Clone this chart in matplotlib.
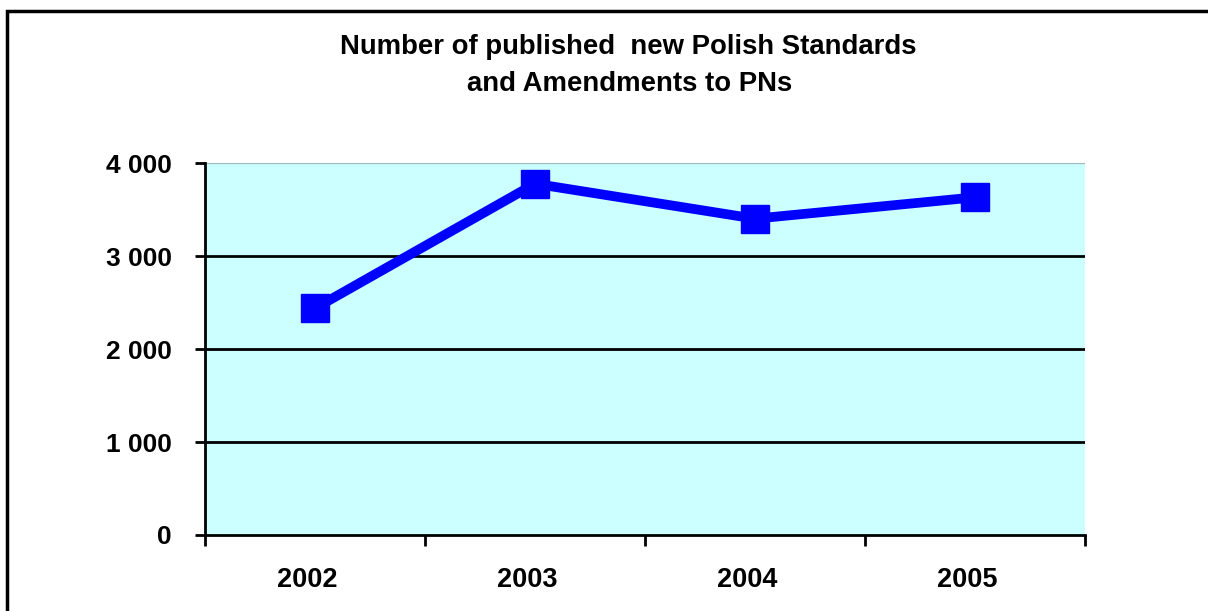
import matplotlib
matplotlib.use("Agg")
import matplotlib.pyplot as plt
from matplotlib.patches import Rectangle
from matplotlib.ticker import FuncFormatter
from matplotlib.transforms import ScaledTranslation

years = ["2002", "2003", "2004", "2005"]
values = [2440, 3780, 3404, 3634]
y_ticks = [0, 1000, 2000, 3000, 4000]
title_lines = ["Number of published  new Polish Standards", "and Amendments to PNs"]

plt.rcParams['font.family'] = ['Liberation Sans', 'DejaVu Sans']
W, H = 1208, 611
fig = plt.figure(figsize=(W / 100, H / 100), dpi=100)
fig.patch.set_facecolor('white')

# outer frame (cropped on right/bottom)
fig.patches.append(Rectangle((7 / W, -0.1), 1.2, 1 - 11 / H + 0.1,
                             transform=fig.transFigure, fill=False,
                             edgecolor='black', linewidth=2.5))

ax = fig.add_axes([205 / W, 1 - 535 / H, (1085 - 205) / W, (535 - 163.3) / H])
ax.set_facecolor('#ccffff')
x = list(range(len(years)))
ax.set_xlim(-0.5, len(years) - 0.5)
ax.set_ylim(0, 4000)

for yv in y_ticks[1:-1]:
    ax.axhline(yv, color='black', linewidth=2.0, zorder=1)
ax.axhline(4000, color='#99bbbb', linewidth=1.6, zorder=1)

ax.plot(x, values, color='#0000ff', linewidth=7, marker='s', markersize=19.5,
        markerfacecolor='#0000ff', markeredgecolor='#0000ff', zorder=3)

for s in ['top', 'right']:
    ax.spines[s].set_visible(False)
for s in ['left', 'bottom']:
    ax.spines[s].set_linewidth(2.0)
    ax.spines[s].set_color('black')

ax.set_yticks(y_ticks)
ax.yaxis.set_major_formatter(FuncFormatter(lambda v, p: f"{int(v):,}".replace(",", " ")))
ax.tick_params(axis='y', direction='out', length=7, width=2.0, pad=17,
               labelsize=19)
for lab in ax.get_yticklabels():
    lab.set_fontweight('bold')

ax.set_xticks(x)
ax.set_xticklabels(years, fontsize=19.5, fontweight='bold')
ax.set_xticks([i - 0.5 for i in range(len(years) + 1)], minor=True)
ax.tick_params(axis='x', which='major', length=0, pad=23)
ax.tick_params(axis='x', which='minor', direction='out', length=8, width=2.0)
shift = ScaledTranslation(-8 / 100, 0, fig.dpi_scale_trans)
for lab in ax.get_xticklabels():
    lab.set_transform(lab.get_transform() + shift)

for yy, xx, line in zip([47.5, 84], [628, 630], title_lines):
    fig.text(xx / W, 1 - yy / H, line, ha='center', va='center', fontsize=19.8,
             fontweight='bold')

fig.savefig('out.png', dpi=100)
